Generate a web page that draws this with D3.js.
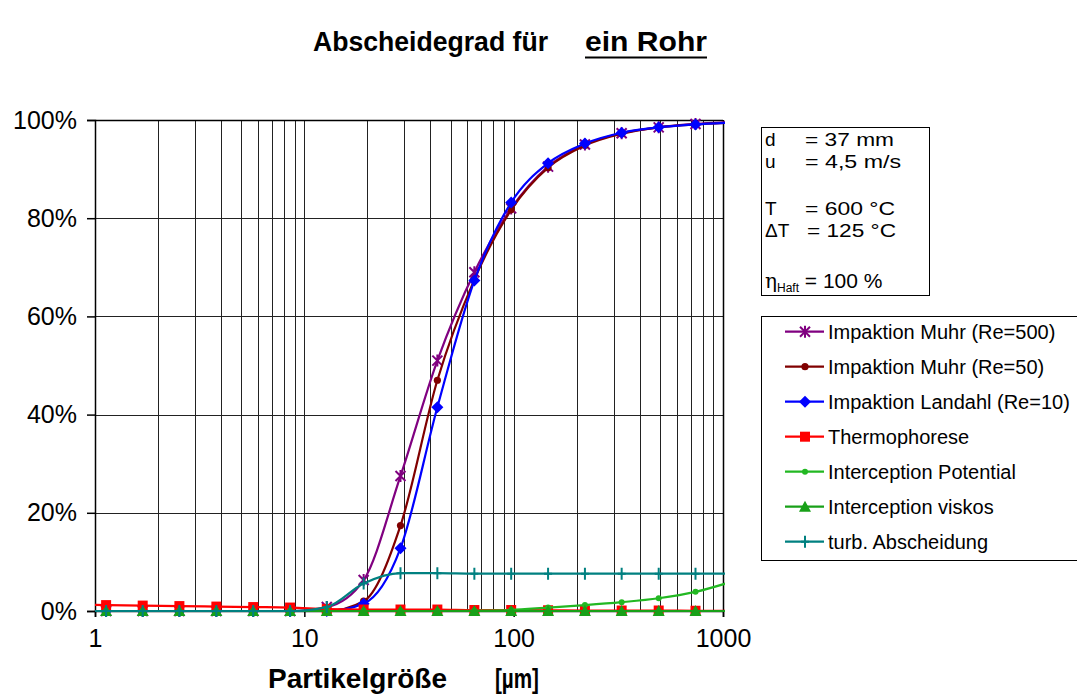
<!DOCTYPE html>
<html>
<head>
<meta charset="utf-8">
<script src="https://cdn.jsdelivr.net/npm/d3@7/dist/d3.min.js"></script>
<style>
  body { margin: 0; background: #fff; }
  svg { display: block; font-family: "Liberation Sans", Arial, sans-serif; }
</style>
</head>
<body>
<svg id="chart" width="1077" height="700"></svg>
<script>
// particle sizes in µm (first and last point lie outside the plot and get clipped)
const sizes = [0.75, 1.13, 1.69, 2.53, 3.8, 5.7, 8.55, 12.8, 19.2, 28.8, 43.2, 64.9, 97.3, 146, 219, 328, 493, 739, 1108];

// Abscheidegrad in %
const muhr500   = [0, 0, 0, 0, 0, 0, 0, 0.8, 6.3, 27.5, 51, 69, 82, 90.5, 95, 97.3, 98.5, 99.2, 99.6];
const muhr50    = [0, 0, 0, 0, 0, 0, 0, 0, 2, 17.4, 47, 67.5, 81.7, 90.3, 94.8, 97.2, 98.5, 99.1, 99.5];
const landahl10 = [0, 0, 0, 0, 0, 0, 0, 0, 1.5, 12.8, 41.5, 67.3, 83.2, 91.2, 95.2, 97.4, 98.5, 99.1, 99.5];
const thermo    = [1.3, 1.2, 1.1, 1.0, 0.9, 0.8, 0.7, 0.4, 0.3, 0.3, 0.3, 0.2, 0.2, 0.15, 0.1, 0.1, 0.1, 0.05, 0.05];
const interPot  = [0, 0, 0, 0, 0, 0, 0, 0, 0, 0, 0, 0.05, 0.2, 0.7, 1.2, 1.8, 2.6, 3.9, 6.0];
const interVisk = [0, 0, 0, 0, 0, 0, 0, 0, 0, 0, 0, 0, 0, 0, 0, 0, 0, 0, 0];
const turb      = [0, 0, 0, 0, 0, 0, 0, 0.8, 5.6, 7.7, 7.7, 7.6, 7.6, 7.6, 7.6, 7.6, 7.6, 7.6, 7.6];

const seriesNames = [
  'Impaktion Muhr (Re=500)', 'Impaktion Muhr (Re=50)', 'Impaktion Landahl (Re=10)',
  'Thermophorese', 'Interception Potential', 'Interception viskos', 'turb. Abscheidung'
];
const seriesValues = [muhr500, muhr50, landahl10, thermo, interPot, interVisk, turb];
const seriesColors = ['#800080', '#800000', '#0000ff', '#ff0000', '#22b822', '#18a018', '#008080'];
const seriesMarkers = ['star', 'circle', 'diamond', 'square', 'dot', 'triangle', 'plus'];

const xTicks = [1, 10, 100, 1000];
const yTicks = [0, 20, 40, 60, 80, 100];

const infoLines = [
  { label: 'd', value: '= 37 mm' },
  { label: 'u', value: '= 4,5 m/s' },
  { label: 'T', value: '= 600 °C' },
  { label: 'ΔT', value: '= 125 °C' }
];

// plot area
const plotLeft = 95, plotRight = 723, plotTop = 120, plotBottom = 611;

const svg = d3.select('#chart');

const x = d3.scaleLog().domain([1, 1000]).range([plotLeft, plotRight]);
const y = d3.scaleLinear().domain([0, 100]).range([plotBottom, plotTop]);

// title
svg.append('text')
  .attr('x', 313).attr('y', 51)
  .attr('textLength', 235).attr('lengthAdjust', 'spacingAndGlyphs')
  .style('font-size', '28px').style('font-weight', 'bold')
  .text('Abscheidegrad für');
svg.append('text')
  .attr('x', 585).attr('y', 51)
  .attr('textLength', 122).attr('lengthAdjust', 'spacingAndGlyphs')
  .style('font-size', '28px').style('font-weight', 'bold')
  .text('ein Rohr');
svg.append('line')
  .attr('x1', 585).attr('x2', 707).attr('y1', 57.5).attr('y2', 57.5)
  .style('stroke', '#000').style('stroke-width', 2.2);

// vertical grid (every minor decade step)
const gridX = [];
[1, 10, 100].forEach(dec => {
  for (let k = 1; k <= 9; k++) gridX.push(dec * k);
});
svg.append('g').selectAll('line')
  .data(gridX.filter(v => v > 1))
  .enter().append('line')
  .attr('x1', d => Math.round(x(d)) + 0.5)
  .attr('x2', d => Math.round(x(d)) + 0.5)
  .attr('y1', plotTop).attr('y2', plotBottom)
  .style('stroke', '#222').style('stroke-width', 1);

// horizontal grid
svg.append('g').selectAll('line')
  .data(yTicks.filter(v => v > 0 && v < 100))
  .enter().append('line')
  .attr('x1', plotLeft).attr('x2', plotRight)
  .attr('y1', d => Math.round(y(d)) + 0.5)
  .attr('y2', d => Math.round(y(d)) + 0.5)
  .style('stroke', '#222').style('stroke-width', 1);

// top border and right border
svg.append('line')
  .attr('x1', plotLeft).attr('x2', plotRight).attr('y1', plotTop + 0.5).attr('y2', plotTop + 0.5)
  .style('stroke', '#000').style('stroke-width', 1.5);
svg.append('line')
  .attr('x1', plotRight + 0.5).attr('x2', plotRight + 0.5).attr('y1', plotTop).attr('y2', plotBottom)
  .style('stroke', '#000').style('stroke-width', 1.5);

// axes
const yAxis = svg.append('g')
  .attr('transform', `translate(${plotLeft},0)`)
  .call(d3.axisLeft(y).tickValues(yTicks).tickFormat(d => d + '%').tickSize(8).tickPadding(10));
yAxis.selectAll('text').style('font-size', '25px').style('fill', '#000')
  .style('font-family', '"Liberation Sans", Arial, sans-serif');
yAxis.selectAll('line, path').style('stroke', '#000').style('stroke-width', 1.5);

const xAxis = svg.append('g')
  .attr('transform', `translate(0,${plotBottom})`)
  .call(d3.axisBottom(x).tickValues(xTicks).tickFormat(d3.format('d')).tickSize(6).tickPadding(12));
xAxis.selectAll('text').style('font-size', '25px').style('fill', '#000')
  .style('font-family', '"Liberation Sans", Arial, sans-serif');
xAxis.selectAll('line, path').style('stroke', '#000').style('stroke-width', 1.5);

// axis title
svg.append('text').attr('x', 268).attr('y', 688)
  .style('font-size', '28px').style('font-weight', 'bold').text('Partikelgröße');
svg.append('text').attr('x', 495).attr('y', 688)
  .attr('textLength', 44).attr('lengthAdjust', 'spacingAndGlyphs')
  .style('font-size', '28px').style('font-weight', 'bold').text('[µm]');

// clip for series
svg.append('clipPath').attr('id', 'plotClip')
  .append('rect').attr('x', plotLeft).attr('y', plotTop - 10)
  .attr('width', plotRight - plotLeft + 2).attr('height', plotBottom - plotTop + 20);

function drawMarker(g, type, color) {
  switch (type) {
    case 'star':
      g.append('path').attr('d', 'M-5,-5L5,5M-5,5L5,-5M0,-6L0,6')
        .style('stroke', color).style('stroke-width', 2).style('fill', 'none');
      break;
    case 'circle':
      g.append('circle').attr('r', 3.6).style('fill', color);
      break;
    case 'diamond':
      g.append('path').attr('d', 'M0,-6L6,0L0,6L-6,0Z').style('fill', color);
      break;
    case 'square':
      g.append('rect').attr('x', -5).attr('y', -5).attr('width', 10).attr('height', 10).style('fill', color);
      break;
    case 'dot':
      g.append('circle').attr('r', 3).style('fill', color);
      break;
    case 'triangle':
      g.append('path').attr('d', 'M0,-6L6,5L-6,5Z').style('fill', color);
      break;
    case 'plus':
      g.append('path').attr('d', 'M0,-6L0,6M-4,0L4,0')
        .style('stroke', color).style('stroke-width', 2).style('fill', 'none');
      break;
  }
}

const line = d3.line()
  .x(d => x(d[0]))
  .y(d => y(d[1]))
  .curve(d3.curveMonotoneX);

const plot = svg.append('g').attr('clip-path', 'url(#plotClip)');

seriesValues.forEach((vals, i) => {
  const pts = sizes.map((s, j) => [s, vals[j]]);
  const g = plot.append('g');
  g.append('path')
    .datum(pts)
    .attr('d', line)
    .style('fill', 'none')
    .style('stroke', seriesColors[i])
    .style('stroke-width', 2.2);
  pts.filter(p => p[0] >= 1 && p[0] <= 1000).forEach(p => {
    const m = g.append('g').attr('transform', `translate(${x(p[0])},${y(p[1])})`);
    drawMarker(m, seriesMarkers[i], seriesColors[i]);
  });
});

// info box
const info = svg.append('g');
info.append('rect')
  .attr('x', 761.5).attr('y', 127.5).attr('width', 168).attr('height', 168)
  .style('fill', '#fff').style('stroke', '#000').style('stroke-width', 1);
const infoY = [146, 168, 215, 237];
const infoW = [89, 96, 90, 89];
infoLines.forEach((l, i) => {
  info.append('text').attr('x', 765).attr('y', infoY[i]).style('font-size', '19px').text(l.label);
  info.append('text').attr('x', i === 3 ? 807 : 805).attr('y', infoY[i])
    .attr('textLength', infoW[i]).attr('lengthAdjust', 'spacingAndGlyphs')
    .style('font-size', '19px').text(l.value);
});
const eta = info.append('text').attr('x', 765).attr('y', 288).style('font-size', '21px');
eta.append('tspan').text('η').style('font-family', '"DejaVu Serif", serif').style('font-size', '20px');
eta.append('tspan').text('Haft').attr('dy', 4).style('font-size', '12px');
eta.append('tspan').text(' = 100 %').attr('dy', -4);

// legend
const legend = svg.append('g');
legend.append('rect')
  .attr('x', 761.5).attr('y', 316.5).attr('width', 330).attr('height', 244)
  .style('fill', '#fff').style('stroke', '#000').style('stroke-width', 1);
seriesNames.forEach((name, i) => {
  const cy = 331.7 + i * 35;
  legend.append('line')
    .attr('x1', 785).attr('x2', 824).attr('y1', cy).attr('y2', cy)
    .style('stroke', seriesColors[i]).style('stroke-width', 2.2);
  const m = legend.append('g').attr('transform', `translate(805,${cy})`);
  drawMarker(m, seriesMarkers[i], seriesColors[i]);
  legend.append('text')
    .attr('x', 828).attr('y', cy + 7)
    .style('font-size', '20px')
    .text(name);
});
</script>
</body>
</html>
